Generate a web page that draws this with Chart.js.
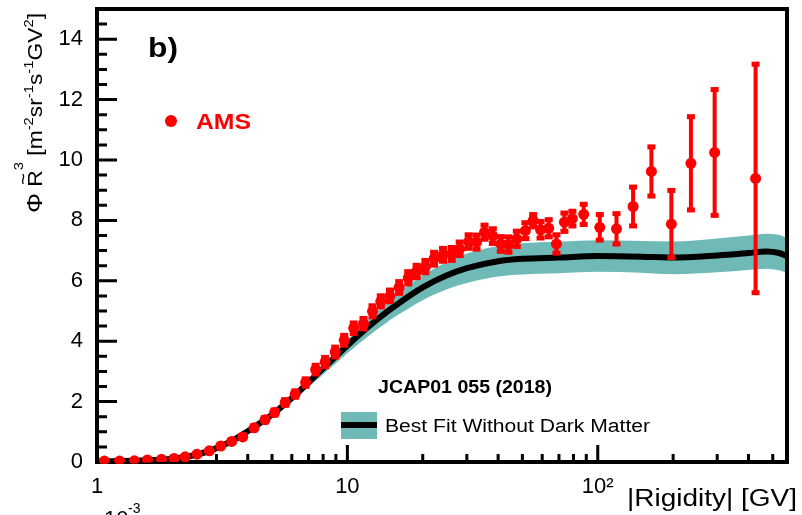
<!DOCTYPE html>
<html>
<head>
<meta charset="utf-8">
<script src="https://cdn.jsdelivr.net/npm/chart.js@4/dist/chart.umd.min.js"></script>
<style>
  html, body { margin: 0; padding: 0; background: #fff; overflow: hidden; }
  canvas { display: block; }
</style>
</head>
<body>
<canvas id="chart" width="802" height="515"></canvas>
<script>
/* ---------- DATA ---------- */
// AMS points: rigidity [GV], flux x R^3, error
const amsR = [1.07, 1.23, 1.41, 1.59, 1.81, 2.03, 2.25, 2.51, 2.81, 3.12,
  3.45, 3.82, 4.24, 4.69, 5.12, 5.64, 6.19, 6.81, 7.47, 8.15,
  8.94, 9.71, 10.6, 11.6, 12.6, 13.6, 14.8, 16.1, 17.5, 18.9,
  20.5, 22.2, 24.1, 26.1, 28.1, 30.5, 32.8, 35.3, 38.1, 41.0,
  44.0, 47.5, 51.4, 55.2, 59.1, 63.7, 68.4, 73.6, 79.2, 87.9,
  101.9, 118.8, 138.4, 163.8, 196.8, 235.6, 293, 427];
const amsFlux = [0.03, 0.03, 0.04, 0.07, 0.09, 0.12, 0.17, 0.26, 0.37, 0.53,
  0.68, 0.83, 1.13, 1.40, 1.64, 1.97, 2.25, 2.63, 3.06, 3.31,
  3.64, 4.03, 4.43, 4.58, 4.99, 5.32, 5.50, 5.78, 6.10, 6.31,
  6.47, 6.73, 6.86, 6.89, 7.06, 7.30, 7.28, 7.61, 7.48, 7.22,
  7.20, 7.39, 7.66, 7.99, 7.69, 7.74, 7.22, 7.94, 8.06, 8.20,
  7.77, 7.72, 8.46, 9.62, 7.88, 9.89, 10.25, 9.39];
const amsErr = [0.02, 0.02, 0.02, 0.02, 0.02, 0.02, 0.02, 0.02, 0.03, 0.04,
  0.05, 0.06, 0.08, 0.09, 0.10, 0.11, 0.12, 0.14, 0.16, 0.17,
  0.18, 0.18, 0.19, 0.19, 0.20, 0.20, 0.21, 0.21, 0.22, 0.22,
  0.22, 0.23, 0.23, 0.23, 0.24, 0.24, 0.25, 0.25, 0.26, 0.26,
  0.27, 0.27, 0.28, 0.22, 0.29, 0.30, 0.32, 0.32, 0.26, 0.35,
  0.44, 0.52, 0.66, 0.83, 1.13, 1.56, 2.10, 3.80];

// best fit without dark matter + its uncertainty band
const fitR = [1.0, 1.5, 2.0, 2.5, 3.0, 3.5, 4.0, 4.5, 5.0, 6.0,
  7.0, 8.0, 9.0, 10, 12, 14, 16, 20, 25, 30,
  40, 50, 70, 100, 150, 200, 300, 400, 470, 530, 570];
const fitFlux = [0.02, 0.05, 0.11, 0.24, 0.46, 0.72, 1.02, 1.30, 1.57, 2.12,
  2.64, 3.10, 3.50, 3.86, 4.45, 4.90, 5.25, 5.78, 6.18, 6.42,
  6.65, 6.73, 6.77, 6.82, 6.80, 6.77, 6.84, 6.92, 6.97, 6.92, 6.82];
const fitLow = [0.02, 0.04, 0.09, 0.21, 0.42, 0.67, 0.95, 1.22, 1.47, 1.99,
  2.48, 2.90, 3.27, 3.60, 4.14, 4.55, 4.88, 5.36, 5.72, 5.93,
  6.14, 6.21, 6.25, 6.30, 6.27, 6.22, 6.28, 6.36, 6.40, 6.35, 6.26];
const fitHigh = [0.02, 0.06, 0.12, 0.26, 0.49, 0.76, 1.07, 1.36, 1.64, 2.21,
  2.75, 3.24, 3.66, 4.04, 4.70, 5.20, 5.60, 6.18, 6.62, 6.90,
  7.15, 7.24, 7.29, 7.34, 7.32, 7.30, 7.40, 7.50, 7.56, 7.52, 7.42];

// axes
const xTickValues = [1, 10, 100];
const xTickLabels = ['1', '10', '10²'];
const xMinorTicks = [2, 3, 4, 5, 6, 7, 8, 9, 20, 30, 40, 50, 60, 70, 80, 90, 200, 300, 400, 500];
const yTickValues = [0, 2, 4, 6, 8, 10, 12, 14];

const FONT = '"Liberation Sans", Arial, Helvetica, sans-serif';
const RED = '#ff0000';
const TEAL = '#6fbab7';

const pts = (xs, ys) => xs.map((v, i) => ({ x: v, y: ys[i] }));

// text squeezed/stretched to the width it has in the picture
function fitText(ctx, text, font, x, y, width) {
  ctx.save();
  ctx.font = font;
  const w = ctx.measureText(text).width;
  ctx.translate(x, y);
  ctx.scale(width / w, 1);
  ctx.fillText(text, 0, 0);
  ctx.restore();
}

/* ---------- PLUGINS ---------- */
// ROOT-like frame with ticks pointing inside
const frame = {
  id: 'frame',
  beforeDatasetsDraw(chart) {
    const { ctx, chartArea: a, scales: { x, y } } = chart;
    ctx.save();
    ctx.strokeStyle = '#000';
    ctx.lineWidth = 3;
    ctx.beginPath();
    for (let v = 0; v <= 15; v += 0.5) {
      const py = y.getPixelForValue(v);
      const len = v % 2 === 0 ? 20 : 10;
      ctx.moveTo(a.left, py); ctx.lineTo(a.left + len, py);
    }
    xTickValues.forEach(v => {
      const px = x.getPixelForValue(v);
      ctx.moveTo(px, a.bottom); ctx.lineTo(px, a.bottom - 17);
    });
    xMinorTicks.forEach(v => {
      const px = x.getPixelForValue(v);
      ctx.moveTo(px, a.bottom); ctx.lineTo(px, a.bottom - 8);
    });
    ctx.stroke();
    ctx.lineWidth = 4;
    ctx.strokeRect(a.left, a.top, a.right - a.left, a.bottom - a.top);
    ctx.restore();
  },
  afterDatasetsDraw(chart) {
    const { ctx, chartArea: a } = chart;
    ctx.save();
    ctx.strokeStyle = '#000';
    ctx.lineWidth = 4;
    ctx.beginPath(); ctx.moveTo(a.right, a.top); ctx.lineTo(a.right, a.bottom); ctx.stroke();
    ctx.restore();
  }
};

// vertical error bars with end caps, drawn just before the AMS markers
const errorBars = {
  id: 'errorBars',
  beforeDatasetDraw(chart, args) {
    if (args.index !== 0) return;
    const { ctx, scales: { x, y } } = chart;
    ctx.save();
    ctx.strokeStyle = RED; ctx.fillStyle = RED; ctx.lineWidth = 4;
    amsR.forEach((r, i) => {
      const px = x.getPixelForValue(r);
      const top = y.getPixelForValue(amsFlux[i] + amsErr[i]);
      const bot = y.getPixelForValue(amsFlux[i] - amsErr[i]);
      ctx.beginPath(); ctx.moveTo(px, top); ctx.lineTo(px, bot); ctx.stroke();
      ctx.fillRect(px - 4, top - 2, 8, 5);
      ctx.fillRect(px - 4, bot - 3, 8, 5);
    });
    ctx.restore();
  }
};

// titles, labels and legend
const texts = {
  id: 'texts',
  afterDraw(chart) {
    const { ctx } = chart;
    ctx.save();
    ctx.textBaseline = 'alphabetic';

    // panel label
    ctx.fillStyle = '#000';
    fitText(ctx, 'b)', 'bold 27px ' + FONT, 148, 57, 30);

    // AMS legend
    ctx.fillStyle = RED;
    ctx.beginPath(); ctx.arc(171, 121, 6, 0, Math.PI * 2); ctx.fill();
    fitText(ctx, 'AMS', 'bold 22px ' + FONT, 196, 129, 55);

    // fit legend
    ctx.fillStyle = '#000';
    fitText(ctx, 'JCAP01 055 (2018)', 'bold 18px ' + FONT, 378, 393, 174);
    ctx.fillStyle = TEAL;
    ctx.fillRect(341, 412, 36, 27);
    ctx.fillStyle = '#000';
    ctx.fillRect(341, 422, 36, 6);
    fitText(ctx, 'Best Fit Without Dark Matter', '18px ' + FONT, 385, 432, 265);

    // x title
    fitText(ctx, '|Rigidity| [GV]', '23px ' + FONT, 627, 506, 170);

    // exponent of the panel below (cut by the edge)
    ctx.font = '22px ' + FONT;
    ctx.fillText('10', 104, 526);
    ctx.font = '14px ' + FONT;
    ctx.fillText('-3', 128, 513);

    // y title, rotated, stretched to run from y=213 up to y=13
    const big = '20px ' + FONT, small = '13px ' + FONT;
    const parts = [
      ['Φ', '22px ' + FONT, 0], [' ', big, 0], ['R', big, 0], ['3', small, -19],
      [' [m', big, 0], ['-2', small, -9], ['sr', big, 0], ['-1', small, -9],
      ['s', big, 0], ['-1', small, -9], ['GV', big, 0], ['2', small, -9], [']', big, 0]
    ];
    let total = 0;
    parts.forEach(([t, f]) => { ctx.font = f; total += ctx.measureText(t).width; });
    ctx.translate(42, 213);
    ctx.rotate(-Math.PI / 2);
    ctx.scale(200 / total, 1);
    let cx = 0;
    parts.forEach(([t, f, dy]) => {
      ctx.font = f;
      if (t === '3') {
        ctx.font = '18px ' + FONT;
        ctx.fillText('~', cx - 13, -13);
        ctx.font = f;
      }
      ctx.fillText(t, cx, dy);
      cx += ctx.measureText(t).width;
    });
    ctx.restore();
  }
};

/* ---------- CHART ---------- */
new Chart(document.getElementById('chart'), {
  type: 'scatter',
  data: {
    datasets: [
      {
        label: 'AMS',
        data: pts(amsR, amsFlux),
        backgroundColor: RED,
        borderWidth: 0,
        pointRadius: 5.5,
        showLine: false
      },
      {
        label: 'Best Fit Without Dark Matter',
        data: pts(fitR, fitFlux),
        showLine: true,
        borderColor: '#000',
        borderWidth: 6,
        pointRadius: 0,
        cubicInterpolationMode: 'monotone'
      },
      {
        label: 'band high',
        data: pts(fitR, fitHigh),
        showLine: true,
        borderWidth: 0,
        borderColor: TEAL,
        backgroundColor: TEAL,
        pointRadius: 0,
        fill: '+1',
        cubicInterpolationMode: 'monotone'
      },
      {
        label: 'band low',
        data: pts(fitR, fitLow),
        showLine: true,
        borderWidth: 0,
        borderColor: TEAL,
        pointRadius: 0,
        cubicInterpolationMode: 'monotone'
      }
    ]
  },
  options: {
    responsive: false,
    devicePixelRatio: 1,
    animation: false,
    layout: { padding: { top: 9, right: 15, left: 0, bottom: 0 } },
    plugins: { legend: { display: false }, tooltip: { enabled: false } },
    scales: {
      x: {
        type: 'logarithmic',
        min: 1,
        max: 570,
        grid: { display: false, drawTicks: false },
        border: { display: false },
        afterBuildTicks: s => { s.ticks = xTickValues.map(v => ({ value: v })); },
        afterFit: s => { s.height = 53; s.paddingLeft = 0; s.paddingRight = 0; },
        ticks: {
          autoSkip: false,
          maxRotation: 0,
          padding: 12,
          color: '#000',
          font: { family: FONT, size: 22 },
          callback: v => xTickLabels[xTickValues.indexOf(v)]
        }
      },
      y: {
        min: 0,
        max: 15,
        grid: { display: false, drawTicks: false },
        border: { display: false },
        afterBuildTicks: s => { s.ticks = yTickValues.map(v => ({ value: v })); },
        afterFit: s => { s.width = 97; s.paddingTop = 0; s.paddingBottom = 0; },
        ticks: {
          padding: 14,
          color: '#000',
          font: { family: FONT, size: 22 }
        }
      }
    }
  },
  plugins: [frame, errorBars, texts]
});
</script>
</body>
</html>
